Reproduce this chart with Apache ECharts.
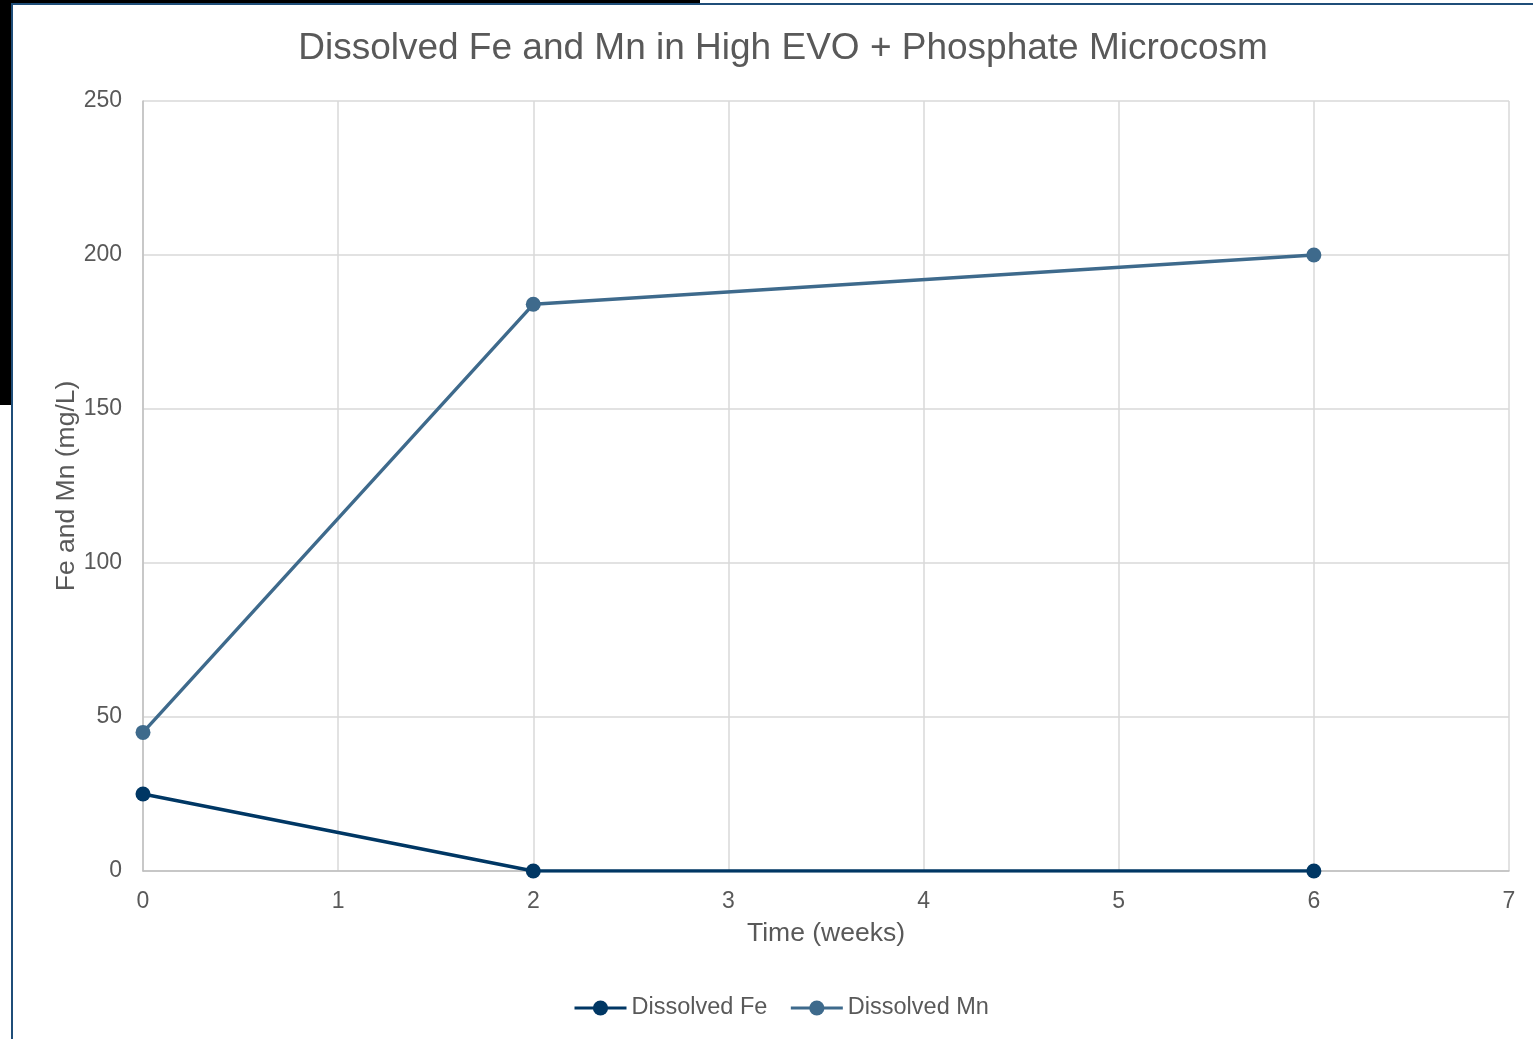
<!DOCTYPE html>
<html lang="en">
<head>
  <meta charset="UTF-8">
  <title>Dissolved Fe and Mn</title>
  <script src="https://cdn.jsdelivr.net/npm/echarts@6/dist/echarts.min.js"></script>
  <style>
    html, body { margin: 0; padding: 0; background: #fff; }
    #main { width: 1533px; height: 1039px; }
  </style>
</head>
<body>
  <div id="main"></div>
  <script type="text/javascript">
    // data
    var weeks = [0, 2, 6];
    var dissolvedFe = [25, 0, 0];
    var dissolvedMn = [45, 184, 200];
    var seriesNames = ['Dissolved Fe', 'Dissolved Mn'];

    var textGrey = '#595959';
    var font = 'Liberation Sans, Arial, sans-serif';

    function pairs(xs, ys) {
      return xs.map(function (x, i) { return [x, ys[i]]; });
    }

    var myChart = echarts.init(document.getElementById('main'));

    var option = {
      backgroundColor: '#fff',
      animation: false,
      title: {
        text: 'Dissolved Fe and Mn in High EVO + Phosphate Microcosm',
        left: 778,
        textAlign: 'center',
        top: 25,
        textStyle: { color: textGrey, fontSize: 37, fontWeight: 'normal', fontFamily: font }
      },
      legend: {
        top: 991,
        left: 568,
        itemWidth: 52,
        itemHeight: 19,
        itemGap: 22,
        lineStyle: { width: 3 },
        textStyle: { color: textGrey, fontSize: 23.5, fontFamily: font },
        data: seriesNames
      },
      grid: { left: 143, right: 24, top: 101, bottom: 168 },
      xAxis: {
        type: 'value',
        min: 0, max: 7, interval: 1,
        name: 'Time (weeks)',
        nameLocation: 'middle',
        nameGap: 49,
        nameTextStyle: { color: textGrey, fontSize: 26.5, fontFamily: font },
        axisLine: { lineStyle: { color: '#bfbfbf', width: 1.5 } },
        axisTick: { show: false },
        axisLabel: { color: textGrey, fontSize: 23, fontFamily: font, margin: 19 },
        splitLine: { show: true, lineStyle: { color: '#d9d9d9', width: 1.5 } }
      },
      yAxis: {
        type: 'value',
        min: 0, max: 250, interval: 50,
        name: 'Fe and Mn (mg/L)',
        nameLocation: 'middle',
        nameGap: 63,
        nameMoveOverlap: false,
        nameTextStyle: { color: textGrey, fontSize: 26.5, fontFamily: font },
        axisLine: { show: true, lineStyle: { color: '#bfbfbf', width: 1.5 } },
        axisTick: { show: false },
        axisLabel: { color: textGrey, fontSize: 23, fontFamily: font, margin: 21 },
        splitLine: { show: true, lineStyle: { color: '#d9d9d9', width: 1.5 } }
      },
      series: [
        {
          name: seriesNames[0],
          type: 'line',
          data: pairs(weeks, dissolvedFe),
          symbol: 'circle',
          symbolSize: 15,
          lineStyle: { color: '#003764', width: 3.4 },
          itemStyle: { color: '#003764' }
        },
        {
          name: seriesNames[1],
          type: 'line',
          data: pairs(weeks, dissolvedMn),
          symbol: 'circle',
          symbolSize: 15,
          lineStyle: { color: '#3e6a8c', width: 3.4 },
          itemStyle: { color: '#3e6a8c' }
        }
      ],
      // frame / edge artifacts seen in the picture
      graphic: [
        { type: 'rect', shape: { x: 0, y: 0, width: 11, height: 405 }, style: { fill: '#000' } },
        { type: 'rect', shape: { x: 0, y: 0, width: 700, height: 3 }, style: { fill: '#000' } },
        { type: 'rect', shape: { x: 11, y: 3, width: 1522, height: 2 }, style: { fill: '#1f4e79' } },
        { type: 'rect', shape: { x: 11, y: 3, width: 2, height: 1036 }, style: { fill: '#1f4e79' } }
      ]
    };

    myChart.setOption(option);
  </script>
</body>
</html>
